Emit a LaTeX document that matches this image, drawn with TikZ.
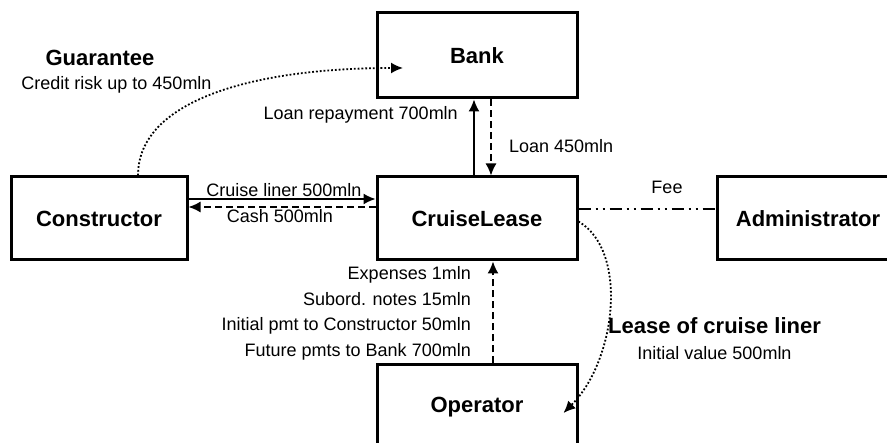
\documentclass[tikz,border=0pt]{standalone}
\usepackage{fontspec}
\setmainfont{Liberation Sans}
\usetikzlibrary{arrows.meta}

\begin{document}
\begin{tikzpicture}[x=1pt,y=-1pt]
    % Define styles for the parties, the flows and the labels
    \tikzstyle{party} = [rectangle, minimum width=200pt, minimum height=83pt, text centered, draw=black, line width=3pt, font=\fontsize{22}{26}\selectfont\bfseries]
    \tikzstyle{goods} = [line width=1.5pt, -{Latex[length=12pt,width=11pt]}]
    \tikzstyle{money} = [goods, dash pattern=on 7pt off 4pt]
    \tikzstyle{pledge} = [goods, line width=1.8pt, dotted]
    \tikzstyle{note} = [font=\fontsize{18}{25.6}\selectfont, inner sep=0pt]
    \tikzstyle{title} = [font=\fontsize{22}{26}\selectfont\bfseries, inner sep=0pt]

    \path[use as bounding box, clip] (0,0) rectangle (887,443);

    % Draw the parties
    \node[party, minimum height=85pt] (bank) at (477,55.5) {Bank};
    \node[party, minimum width=176pt] (constructor) at (99,218.5) {Constructor};
    \node[party] (cruise) at (477,218.5) {CruiseLease};
    \node[party, minimum width=182pt] (admin) at (808,218.5) {Administrator};
    \node[party, minimum height=84pt] (operator) at (477,407) {Operator};

    % Loan and repayment between the bank and CruiseLease
    \draw[goods] ([xshift=-3pt]cruise.north) -- ([xshift=-3pt]bank.south);
    \draw[money] ([xshift=14pt]bank.south) -- ([xshift=14pt]cruise.north);
    \node[note, anchor=east] (repay) at (458,115) {Loan repayment 700mln};
    \node[note, anchor=west] (loan) at (509,146) {Loan 450mln};

    % Ship against cash with the constructor
    \draw[goods] ([yshift=19.5pt]constructor.east) -- ([yshift=19.5pt]cruise.west);
    \draw[money] ([yshift=11.5pt]cruise.west) -- ([yshift=11.5pt]constructor.east);
    \node[note] (liner) at (284,190) {Cruise liner 500mln};
    \node[note] (cash) at (280,216) {Cash 500mln};

    % Fee to the administrator
    \draw[line width=1.5pt, dash pattern=on 12pt off 5pt on 2pt off 5pt on 2pt off 5pt] ([yshift=9.5pt]cruise.east) -- ([yshift=9.5pt]admin.west);
    \node[note] (fee) at (667,187) {Fee};

    % Payments from the operator
    \draw[money] ([xshift=16pt]operator.north) -- ([xshift=16pt]cruise.south);
    \node[note, anchor=east, align=right] (pmts) at (471,313.5) {Expenses 1mln\\Subord. notes 15mln\\Initial pmt to Constructor 50mln\\Future pmts to Bank 700mln};

    % Guarantee and lease
    \draw[pledge] ([xshift=39pt]constructor.north) .. controls +(0,-75) and +(-150,0) .. ([xshift=27.5pt,yshift=-12.5pt]bank.west);
    \node[title] (guarantee) at (100,58) {Guarantee};
    \node[note] (credit) at (116.5,85) {Credit risk up to 450mln};

    \draw[pledge] ([yshift=-3pt]cruise.east) .. controls +(50,29) and +(53,-53) .. ([xshift=-15pt,yshift=-6pt]operator.east);
    \node[title] (lease) at (714.5,326) {Lease of cruise liner};
    \node[note] (value) at (714.5,353) {Initial value 500mln};
\end{tikzpicture}
\end{document}
